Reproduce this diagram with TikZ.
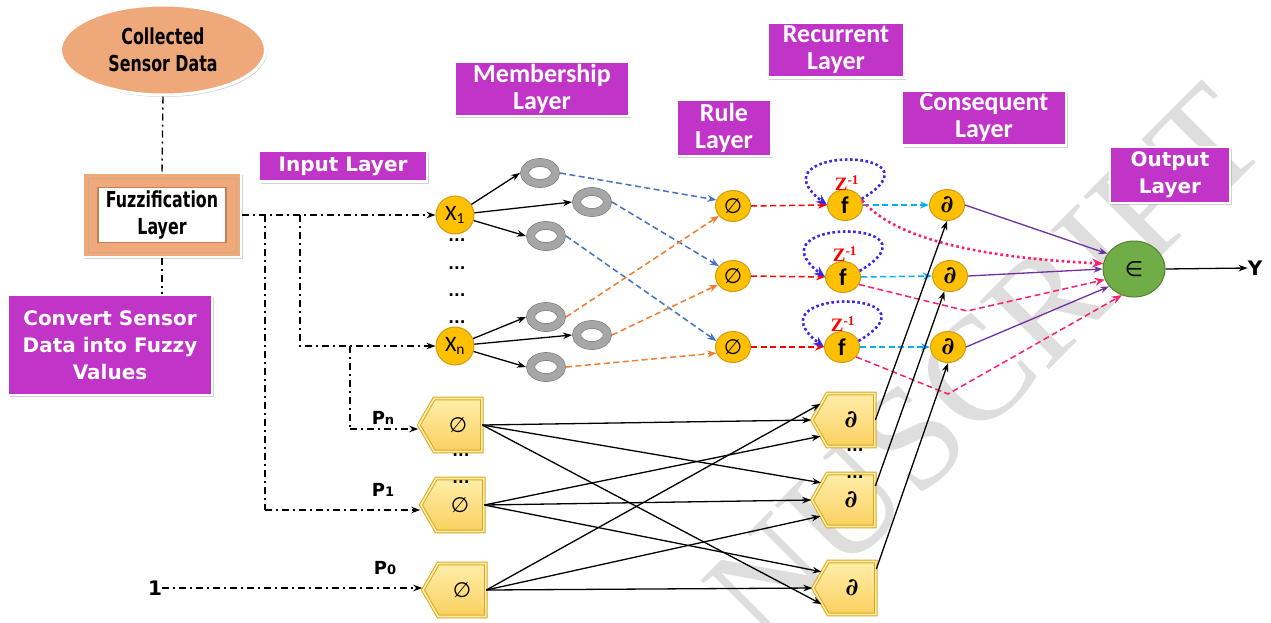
\documentclass[tikz,border=0pt]{standalone}
\usepackage{fontspec}
\newfontfamily\cali{Carlito}[BoldFont={* Bold}]
\newfontfamily\verd{DejaVu Sans}
\newfontfamily\cond{DejaVu Sans}[FakeStretch=0.72]
\newfontfamily\dser{DejaVu Serif}
\newfontfamily\tnr{Liberation Serif}
\usetikzlibrary{shapes.geometric,shapes.symbols,shadows,arrows.meta,calc}
\definecolor{mag}{RGB}{192,52,200}
\definecolor{gold}{RGB}{255,192,0}
\definecolor{goldD}{RGB}{205,155,20}
\definecolor{ringG}{RGB}{166,166,166}
\definecolor{ringD}{RGB}{120,120,120}
\definecolor{salmon}{RGB}{238,168,122}
\definecolor{salmonD}{RGB}{196,128,86}
\definecolor{hexL}{RGB}{255,238,170}
\definecolor{hexM}{RGB}{250,208,95}
\definecolor{hexD}{RGB}{218,168,35}
\definecolor{grn}{RGB}{112,173,71}
\definecolor{grnD}{RGB}{84,130,53}
\definecolor{bl}{RGB}{68,114,196}
\definecolor{org}{RGB}{237,125,49}
\definecolor{cy}{RGB}{0,176,240}
\definecolor{pur}{RGB}{112,48,160}
\definecolor{pk}{RGB}{255,30,110}
\definecolor{lp}{RGB}{60,40,230}
\definecolor{wm}{RGB}{222,222,222}
\tikzset{
  lbl/.style={rectangle, fill=mag, draw=white, line width=2.5pt, text=white, align=center, inner sep=0pt,
    drop shadow={opacity=0.35, shadow xshift=1.5pt, shadow yshift=-2pt}},
  calib/.style={font=\cali\bfseries\fontsize{26}{27}\selectfont},
  verdf/.style={font=\verd\bfseries\fontsize{20}{27}\selectfont},
  ycirc/.style={ellipse, fill=gold, draw=goldD, line width=1pt, minimum width=35pt, minimum height=31pt, inner sep=0pt},
  xcirc/.style={circle, fill=gold, draw=goldD, line width=1pt, minimum size=38pt, inner sep=0pt, font=\cali\fontsize{22}{22}\selectfont},
  ringn/.style={ellipse, draw=ringD, line width=0.6pt, double=ringG, double distance=7.5pt, fill=white,
    minimum width=31pt, minimum height=21pt, inner sep=0pt, outer sep=4.5pt},
  hexn/.style={signal, signal to=west, signal pointer angle=120, top color=hexL, bottom color=hexM,
    draw=hexD, line width=1pt, double=hexL, double distance=1.6pt, minimum width=63pt, minimum height=53pt, inner sep=0pt},
  phi/.style={font=\verd\fontsize{21}{21}\selectfont},
  prt/.style={font=\dser\bfseries\itshape\fontsize{24}{24}\selectfont},
  dotsn/.style={inner sep=0pt, font=\verd\bfseries\fontsize{15}{15}\selectfont},
  arr/.style={-{Stealth[length=9pt,width=6.5pt]}, line width=1.3pt},
  ddl/.style={line width=1.4pt, dash pattern=on 7pt off 4pt on 2pt off 4pt},
  dd/.style={ddl, -{Stealth[length=9pt,width=6.5pt]}},
  dsh/.style={dash pattern=on 6pt off 3.5pt, line width=1.5pt, -{Stealth[length=9pt,width=7pt]}},
  lpst/.style={draw=lp, line width=2.6pt, dash pattern=on 2.6pt off 2.6pt, -{Stealth[length=11pt,width=9pt]}},
  zl/.style={text=red, inner sep=0pt, font=\tnr\bfseries\fontsize{19}{19}\selectfont},
  pkd/.style={draw=pk, line width=1.5pt, dash pattern=on 6pt off 3.5pt, -{Stealth[length=10pt,width=8pt]}},
  pko/.style={draw=pk, line width=2.6pt, dash pattern=on 2.6pt off 3pt, -{Stealth[length=11pt,width=9pt]}},
  plab/.style={font=\verd\bfseries\fontsize{18}{18}\selectfont, inner sep=0pt}
}
\begin{document}
\begin{tikzpicture}[x=1pt,y=-1pt]
\fill[white] (0,0) rectangle (1271,622);
\useasboundingbox (0,0) rectangle (1271,622);

% watermark
\node[text=wm, rotate=45, inner sep=0pt, font=\tnr\fontsize{148}{148}\selectfont] (wmk) at (985,365) {NUSCRIPT};

% left column
\node[ellipse, fill=salmon, draw=white, line width=3pt, minimum width=205pt, minimum height=90pt, align=center,
  drop shadow={opacity=0.35, shadow xshift=1.5pt, shadow yshift=-2pt},
  font=\cond\bfseries\fontsize{22}{27}\selectfont] (col) at (163,50) {Collected\\Sensor Data};
\node[rectangle, fill=salmon, draw=white, line width=2pt, minimum width=158pt, minimum height=84pt,
  drop shadow={opacity=0.35, shadow xshift=1.5pt, shadow yshift=-2pt}] (fuzz) at (162,215) {};
\node[rectangle, draw=salmonD!70, line width=0.7pt, minimum width=148pt, minimum height=74pt] (fuzzb) at (fuzz.center) {};
\node[rectangle, fill=white, draw=salmonD, line width=1.5pt, minimum width=128pt, minimum height=55pt, align=center,
  font=\cond\bfseries\fontsize{22}{27}\selectfont] (fuzzin) at (fuzz.center) {Fuzzification\\Layer};
\node[lbl, verdf, minimum width=204pt, minimum height=100pt] (lconv) at (110,345) {Convert Sensor\\Data into Fuzzy\\Values};
\draw[ddl] (col.south) -- (fuzz.north);
\draw[ddl] (fuzz.south) -- (fuzz.south |- lconv.north);

% layer labels
\node[lbl, verdf, minimum width=168pt, minimum height=31pt] (linp) at (343,166) {Input Layer};
\node[lbl, calib, minimum width=175pt, minimum height=54pt] (lmem) at (542,89) {Membership\\Layer};
\node[lbl, calib, minimum width=137pt, minimum height=55pt] (lrec) at (836,50) {Recurrent\\Layer};
\node[lbl, calib, minimum width=95pt, minimum height=56pt] (lrule) at (724,128) {Rule\\Layer};
\node[lbl, calib, minimum width=164pt, minimum height=55pt] (lcon) at (984,118) {Consequent\\Layer};
\node[lbl, verdf, minimum width=120pt, minimum height=56pt] (lout) at (1170,175) {Output\\Layer};

% input nodes
\node[xcirc] (x1) at (455,215) {X\textsubscript{1}};
\node[xcirc] (xn) at (455,346) {X\textsubscript{n}};
\node[dotsn] (dx1) at (457,240) {...};
\node[dotsn] (dx2) at (457,268) {...};
\node[dotsn] (dx3) at (457,295) {...};
\node[dotsn] (dx4) at (457,322) {...};

% membership rings
\node[ringn] (r1) at (540,173) {};
\node[ringn] (r2) at (592,202) {};
\node[ringn] (r3) at (546,236) {};
\node[ringn] (r4) at (546,317) {};
\node[ringn] (r5) at (592,335) {};
\node[ringn] (r6) at (546,367) {};

% rule nodes
\node[ycirc, phi] (u1) at (733,206) {∅};
\node[ycirc, phi] (u2) at (733,276) {∅};
\node[ycirc, phi] (u3) at (733,347) {∅};

% recurrent nodes
\node[ycirc, font=\cali\bfseries\fontsize{24}{24}\selectfont] (f1) at (845,205) {f};
\node[ycirc, font=\cali\bfseries\fontsize{24}{24}\selectfont] (f2) at (843,277) {f};
\node[ycirc, font=\cali\bfseries\fontsize{24}{24}\selectfont] (f3) at (842,347) {f};
\node[zl] (z1) at (847,183) {Z\textsuperscript{-1}};
\node[zl] (z2) at (845,254) {Z\textsuperscript{-1}};
\node[zl] (z3) at (843,324) {Z\textsuperscript{-1}};

% consequent circles
\node[ycirc, prt] (c1) at (947,205) {∂};
\node[ycirc, prt] (c2) at (950,276) {∂};
\node[ycirc, prt] (c3) at (948,347) {∂};

% output
\node[ellipse, fill=grn, draw=grnD, line width=1pt, minimum width=62pt, minimum height=56pt, inner sep=0pt,
  font=\verd\fontsize{21}{21}\selectfont] (out) at (1134,269) {∈};
\node[font=\verd\bfseries\fontsize{20}{20}\selectfont, inner sep=0pt] (yy) at (1255,268) {Y};

% hexagon layers
\node[hexn, phi] (pn) at (458,425) {∅};
\node[hexn, phi] (p1) at (460,505) {∅};
\node[hexn, phi] (p0) at (462,590) {∅};
\node[hexn, prt] (d1) at (851,420) {∂};
\node[hexn, prt] (d2) at (851,500) {∂};
\node[hexn, prt] (d3) at (852,588) {∂};
\node[dotsn] (dp1) at (461,455) {...};
\node[dotsn] (dp2) at (461,482) {...};
\node[dotsn] (dd1) at (855,450) {...};
\node[dotsn] (dd2) at (855,477) {...};

% P labels
\node[plab] (lpn) at (383,418) {P{\fontsize{13}{13}\selectfont n}};
\node[plab] (lp1) at (383,490) {P{\fontsize{13}{13}\selectfont 1}};
\node[plab] (lp0) at (385,568) {P{\fontsize{13}{13}\selectfont 0}};
\node[plab, font=\verd\bfseries\fontsize{20}{20}\selectfont] (one) at (155,588) {1};

% input dash-dot connectors
\coordinate (j1) at (265,215);
\coordinate (j2) at (300,215);
\coordinate (j3) at (350,346);
\draw[dd] (fuzz.east) -- (x1);
\draw[ddl] (j1) -- ++(0,295) coordinate (j1b);
\draw[dd] (j1b) -- (p1.west |- j1b);
\draw[dd] (j2) |- (xn);
\draw[ddl] (j3) -- ++(0,83) coordinate (j3b);
\draw[dd] (j3b) -- (pn.west |- j3b);
\draw[dd] (one.east) -- (p0.west |- one.east);

% input to membership
\draw[arr] (x1) -- (r1.west);
\draw[arr] (x1) -- (r2.west);
\draw[arr] (x1) -- (r3.west);
\draw[arr] (xn) -- (r4.west);
\draw[arr] (xn) -- (r5.west);
\draw[arr] (xn) -- (r6.west);

% membership to rule
\draw[dsh, bl] (r1.east) -- (u1.160);
\draw[dsh, bl] (r2.east) -- (u2.145);
\draw[dsh, bl] (r3.east) -- (u3.160);
\draw[dsh, org] (r4.east) -- (u1.215);
\draw[dsh, org] (r5.east) -- (u2.210);
\draw[dsh, org] (r6.east) -- (u3.200);

% rule to recurrent
\draw[dsh, red] (u1.east) -- (f1.west);
\draw[dsh, red] (u2.east) -- (f2.west);
\draw[dsh, red] (u3.east) -- (f3.west);

% recurrent loops
\draw[lpst] (f1.20) .. controls (950,146) and (750,146) .. (f1.west);
\draw[lpst] (f2.20) .. controls (948,218) and (748,218) .. (f2.west);
\draw[lpst] (f3.20) .. controls (947,288) and (747,288) .. (f3.west);

% recurrent to consequent
\draw[dsh, cy] (f1.east) -- (c1.west);
\draw[dsh, cy] (f2.east) -- (c2.west);
\draw[dsh, cy] (f3.east) -- (c3.west);

% consequent to output
\draw[arr, pur] (c1.east) -- (out.150);
\draw[arr, pur] (c2.east) -- (out.180);
\draw[arr, pur] (c3.east) -- (out.215);

% pink links from recurrent to output
\coordinate (v2) at (967,311);
\coordinate (v3) at (948,394);
\draw[pko] (f1.15) .. controls (895,240) and (985,258) .. (out.170);
\draw[pkd] (f2.-25) -- (v2) -- (out.200);
\draw[pkd] (f3.-35) -- (v3) -- (out.245);

% hex layer connections
\draw[arr] (pn.east) -- (d1.180);
\draw[arr] (pn.east) -- (d2.150);
\draw[arr] (pn.east) -- (d3.208);
\draw[arr] (p1.east) -- (d1.208);
\draw[arr] (p1.east) -- (d2.180);
\draw[arr] (p1.east) -- (d3.152);
\draw[arr] (p0.east) -- (d1.152);
\draw[arr] (p0.east) -- (d2.208);
\draw[arr] (p0.east) -- (d3.180);

% hex consequent to consequent circles
\draw[arr] (d1.east) -- (c1.south);
\draw[arr] (d2.30) -- (c2.250);
\draw[arr] (d3.38) -- (c3.south);

% output
\draw[arr] (out.east) -- (yy.west);
\end{tikzpicture}
\end{document}
